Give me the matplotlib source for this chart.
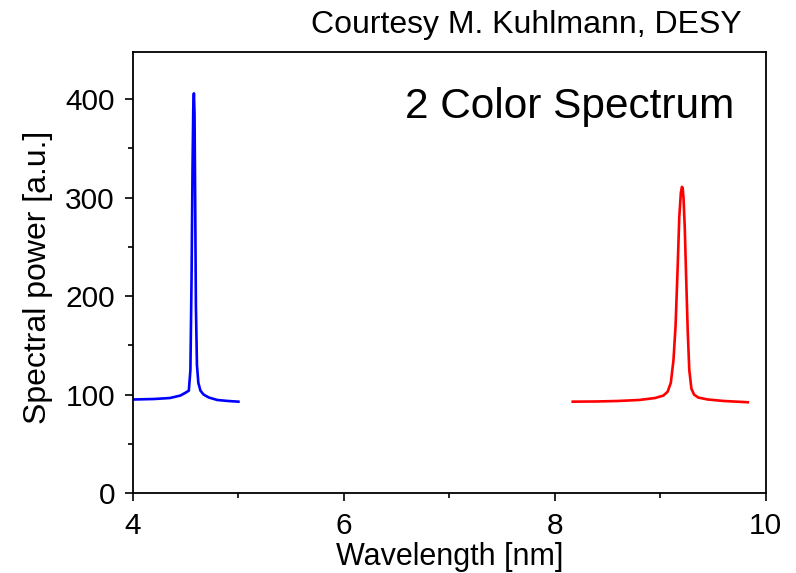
import matplotlib
matplotlib.use("Agg")
import matplotlib.pyplot as plt
from matplotlib.ticker import MultipleLocator

plt.rcParams['font.family'] = ['Liberation Sans', 'DejaVu Sans']

# blue line (short wavelength)
blueX = [4.0, 4.2, 4.35, 4.45, 4.5, 4.53, 4.545, 4.556, 4.565, 4.572, 4.578,
         4.584, 4.59, 4.597, 4.607, 4.62, 4.64, 4.67, 4.72, 4.8, 4.9, 5.0]
blueY = [95, 95.5, 96.5, 99, 102, 104, 125, 220, 330, 390, 406,
         385, 300, 190, 130, 112, 104, 100, 97, 94.5, 93.5, 92.8]

# red line (long wavelength)
redX = [8.17, 8.4, 8.6, 8.8, 8.95, 9.03, 9.07, 9.1, 9.125, 9.145, 9.165,
        9.18, 9.195, 9.205, 9.212, 9.22, 9.232, 9.245, 9.26, 9.275, 9.295,
        9.32, 9.36, 9.45, 9.6, 9.83]
redY = [92.8, 93, 93.5, 94.5, 96.5, 99, 103, 112, 135, 170, 230,
        280, 305, 311, 310, 300, 270, 220, 165, 125, 106,
        100, 97, 95, 93.5, 92.2]

fig = plt.figure(figsize=(7.96, 5.73), dpi=100)
ax = fig.add_axes([0.167, 0.1396, 0.795, 0.7696])

ax.plot(blueX, blueY, color='#0000ff', linewidth=1.9)
ax.plot(redX, redY, color='#ff0000', linewidth=1.9)

ax.set_xlim(4, 10)
ax.set_ylim(0, 448)
ax.xaxis.set_major_locator(MultipleLocator(2))
ax.xaxis.set_minor_locator(MultipleLocator(1))
ax.yaxis.set_major_locator(MultipleLocator(100))
ax.yaxis.set_minor_locator(MultipleLocator(50))
ax.tick_params(which='major', direction='out', length=6, width=1.2,
               labelsize=21.5)
ax.tick_params(axis='x', which='major', pad=8)
ax.tick_params(axis='y', which='major', pad=7)
ax.tick_params(which='minor', direction='out', length=3.5, width=1.2)
for s in ax.spines.values():
    s.set_linewidth(1.3)

ax.set_xlabel('Wavelength [nm]', fontsize=22, labelpad=1)
ax.set_ylabel('Spectral power [a.u.]', fontsize=23, labelpad=14)
ax.yaxis.set_label_coords(-0.126, 0.49)

ax.text(0.95, 0.85, '2 Color Spectrum', transform=ax.transAxes,
        fontsize=30.5, ha='right', va='baseline')
fig.text(0.932, 0.942, 'Courtesy M. Kuhlmann, DESY', fontsize=23,
         ha='right', va='baseline')

fig.savefig('out.png', dpi=100)
